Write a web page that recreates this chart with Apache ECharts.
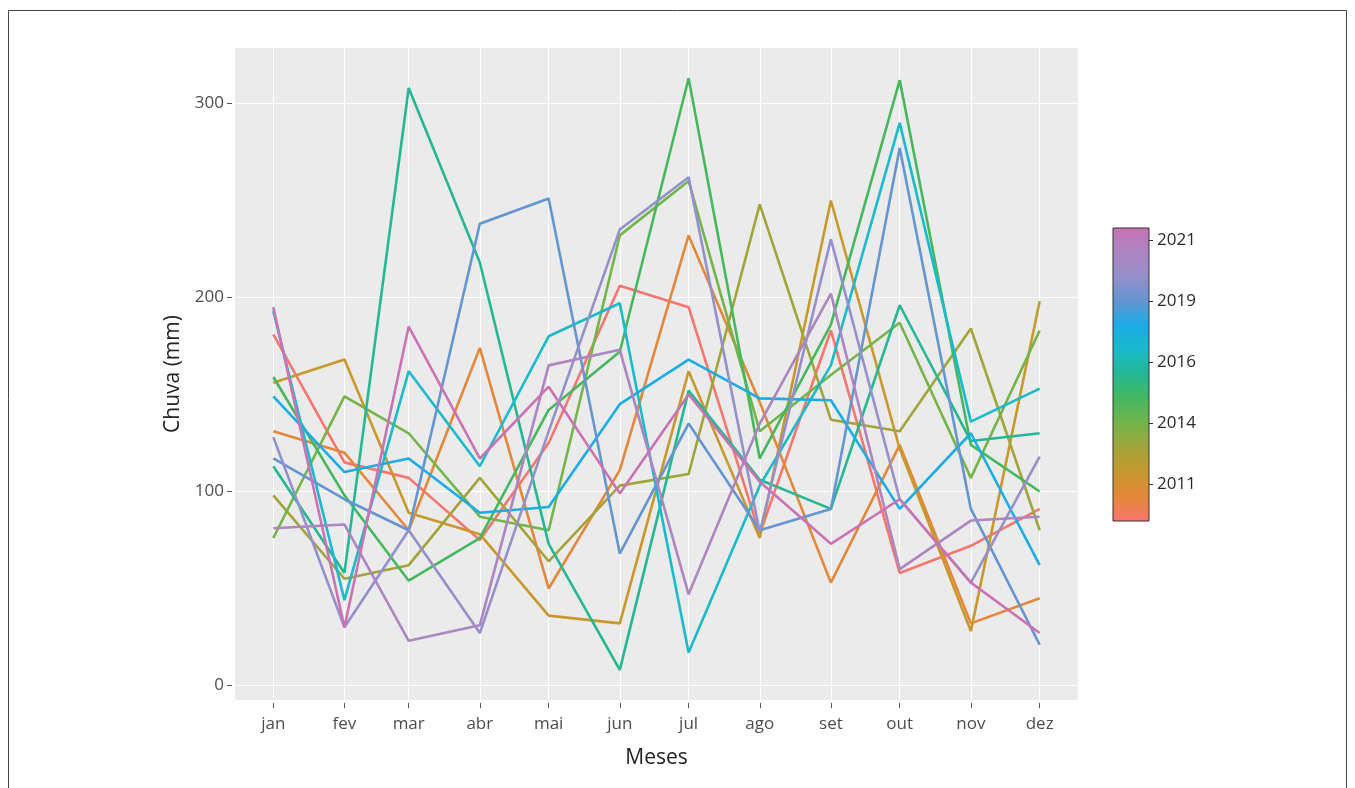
<!DOCTYPE html>
<html>
<head>
<meta charset="utf-8">
<title>Chuva mensal</title>
<script src="https://cdn.jsdelivr.net/npm/echarts@6/dist/echarts.min.js"></script>
<style>
  html, body { margin: 0; padding: 0; background: #fff; }
  #chart { width: 1355px; height: 788px; }
</style>
</head>
<body>
<div id="chart"></div>
<script>
// meses e posição (dia do ano) de cada mês no eixo x
var meses = ['jan', 'fev', 'mar', 'abr', 'mai', 'jun', 'jul', 'ago', 'set', 'out', 'nov', 'dez'];
var diaDoAno = [0, 31, 59, 90, 120, 151, 181, 212, 243, 273, 304, 334];
var anos = [2010, 2011, 2012, 2013, 2014, 2015, 2016, 2017, 2018, 2019, 2020, 2021, 2022];

// chuva mensal (mm) por ano
var chuva2010 = [181, 115, 107, 75, 125, 206, 195, 78, 183, 58, 72, 91];
var chuva2011 = [131, 120, 80, 174, 50, 111, 232, 146, 53, 124, 32, 45];
var chuva2012 = [156, 168, 89, 78, 36, 32, 162, 76, 250, 122, 28, 198];
var chuva2013 = [98, 55, 62, 107, 64, 103, 109, 248, 137, 131, 184, 80];
var chuva2014 = [76, 149, 130, 87, 80, 232, 260, 131, 160, 187, 107, 183];
var chuva2015 = [159, 98, 54, 76, 142, 172, 313, 117, 186, 312, 124, 100];
var chuva2016 = [113, 58, 308, 218, 73, 8, 152, 106, 91, 196, 126, 130];
var chuva2017 = [193, 44, 162, 113, 180, 197, 17, 103, 165, 290, 136, 153];
var chuva2018 = [149, 110, 117, 89, 92, 145, 168, 148, 147, 91, 130, 62];
var chuva2019 = [117, 96, 80, 238, 251, 68, 135, 80, 91, 277, 91, 21];
var chuva2020 = [128, 30, 80, 27, 131, 235, 262, 79, 230, 96, 53, 118];
var chuva2021 = [81, 83, 23, 31, 165, 173, 47, 135, 202, 60, 85, 87];
var chuva2022 = [195, 30, 185, 117, 154, 99, 150, 105, 73, 96, 53, 27];

// marcas do eixo y e da barra de cores
var chuvaTicks = [0, 100, 200, 300];
var anoTicks = [2011.5, 2014, 2016.5, 2019, 2021.5];

var tabela = [chuva2010, chuva2011, chuva2012, chuva2013, chuva2014, chuva2015, chuva2016,
              chuva2017, chuva2018, chuva2019, chuva2020, chuva2021, chuva2022];
var cores = ['#F8766D', '#E5873A', '#C8982C', '#A2A43A', '#74B44A', '#45B85E', '#24B892',
             '#18BACB', '#1AACE5', '#6495D2', '#9490CB', '#AC85C1', '#CA72B4'];

var fonte = '"Open Sans", "Noto Sans", sans-serif';
var anoMin = 2010, anoMax = 2022;

var series = anos.map(function (ano, i) {
    return {
        name: String(ano),
        type: 'line',
        xAxisIndex: 0,
        yAxisIndex: 0,
        data: tabela[i].map(function (v, j) { return [diaDoAno[j], v]; }),
        symbol: 'none',
        silent: true,
        lineStyle: { width: 2.6, color: cores[i] },
        itemStyle: { color: cores[i] }
    };
});

var paradas = anos.map(function (ano, i) {
    return { offset: (ano - anoMin) / (anoMax - anoMin), color: cores[i] };
});

var myChart = echarts.init(document.getElementById('chart'));

var option = {
    animation: false,
    backgroundColor: '#fff',
    textStyle: { fontFamily: fonte },
    graphic: [{
        type: 'rect',
        shape: { x: 8.5, y: 10.5, width: 1338, height: 800 },
        style: { fill: 'none', stroke: '#444', lineWidth: 1 },
        silent: true
    }],
    grid: [{
        left: 235, right: 277, top: 48, bottom: 88,
        show: true, backgroundColor: '#EBEBEB', borderWidth: 0
    }, {
        left: 1113, width: 36, top: 228, height: 293,
        show: true, borderColor: '#333', borderWidth: 1,
        backgroundColor: new echarts.graphic.LinearGradient(0, 1, 0, 0, paradas)
    }],
    xAxis: [{
        gridIndex: 0,
        type: 'value',
        min: -16.7, max: 350.7,
        name: 'Meses', nameLocation: 'middle', nameGap: 45,
        nameTextStyle: { fontSize: 21, color: '#222' },
        offset: 3,
        axisLine: { show: false, onZero: false },
        axisTick: { show: true, length: 5, customValues: diaDoAno, lineStyle: { color: '#555' } },
        axisLabel: {
            customValues: diaDoAno, fontSize: 17, color: '#4D4D4D', margin: 13,
            formatter: function (v) { return meses[diaDoAno.indexOf(v)]; }
        },
        splitLine: { show: true, lineStyle: { color: '#fff', width: 1 } }
    }, {
        gridIndex: 1, type: 'value', min: 0, max: 1, show: false
    }],
    yAxis: [{
        gridIndex: 0,
        type: 'value',
        min: -7.5, max: 328.6,
        name: 'Chuva (mm)', nameLocation: 'middle', nameGap: 42,
        nameTextStyle: { fontSize: 21, color: '#222' },
        offset: 3,
        axisLine: { show: false, onZero: false },
        axisTick: { show: true, length: 5, customValues: chuvaTicks, lineStyle: { color: '#555' } },
        axisLabel: { customValues: chuvaTicks, fontSize: 17, color: '#4D4D4D', margin: 8 },
        splitLine: { show: true, lineStyle: { color: '#fff', width: 1 } }
    }, {
        gridIndex: 1,
        type: 'value',
        position: 'right',
        min: anoMin, max: anoMax,
        axisLine: { show: false, onZero: false },
        axisTick: { show: true, length: 4, customValues: anoTicks, lineStyle: { color: '#333' } },
        axisLabel: {
            customValues: anoTicks, fontSize: 17, color: '#2A2A2A', margin: 8,
            formatter: function (v) { return String(Math.floor(v)); }
        },
        splitLine: { show: false }
    }],
    series: series
};

myChart.setOption(option);
</script>
</body>
</html>
